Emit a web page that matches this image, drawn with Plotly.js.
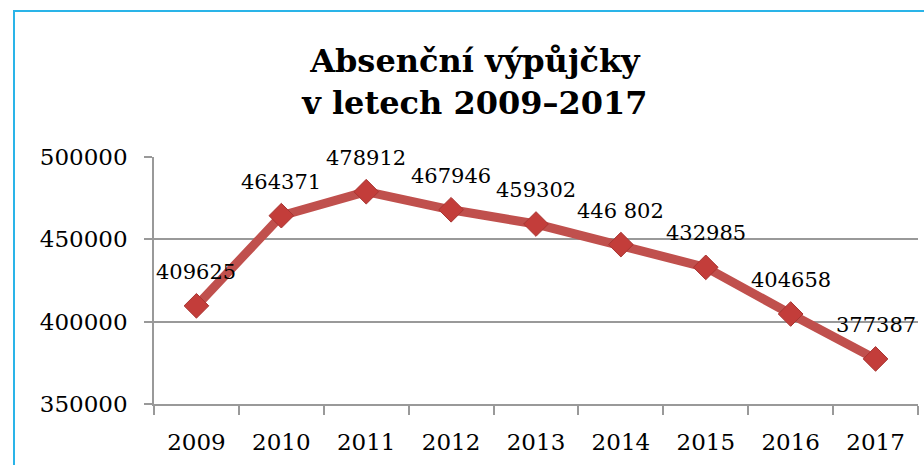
<!DOCTYPE html>
<html>
<head>
<meta charset="utf-8">
<script src="https://cdn.plot.ly/plotly-3.0.1.min.js"></script>
<style>
  body { margin: 0; overflow: hidden; background: #fff; }
  #chart { width: 924px; height: 465px; }
  #frame { position: absolute; left: 13px; top: 10px; width: 1000px; height: 600px;
           border: 2px solid #2ab4e8; pointer-events: none; }
</style>
</head>
<body>
<div id="chart"></div>
<div id="frame"></div>
<script>
var years = ["2009", "2010", "2011", "2012", "2013", "2014", "2015", "2016", "2017"];
var loans = [409625, 464371, 478912, 467946, 459302, 446802, 432985, 404658, 377387];
var loanLabels = ["409625", "464371", "478912", "467946", "459302", "446 802", "432985", "404658", "377387"];

var serif = "Georgia, 'DejaVu Serif', serif";
var red = "#c0504d";

var data = [{
  x: years,
  y: loans,
  type: "scatter",
  mode: "lines+markers",
  line: {color: red, width: 9},
  marker: {symbol: "diamond", size: 19, color: "#c33d3a", line: {color: "#a83532", width: 1}},
  hoverinfo: "x+y"
}];

// data labels above the points (x as category index)
var labels = years.map(function (yr, i) {
  return {
    x: i, y: loans[i], text: loanLabels[i],
    showarrow: false, yshift: 34,
    font: {family: serif, size: 21, color: "#000"}
  };
});

var layout = {
  width: 924,
  height: 465,
  margin: {l: 154, r: 6, t: 157, b: 61},
  paper_bgcolor: "#fff",
  plot_bgcolor: "#fff",
  showlegend: false,
  title: {
    text: "<b>Absenční výpůjčky<br>v letech 2009–2017</b>",
    font: {family: serif, size: 32, color: "#000"},
    x: 0.514, xanchor: "center",
    y: 0.845, yanchor: "top"
  },
  xaxis: {
    type: "category",
    range: [-0.5, 8.5],
    showgrid: false,
    showline: true, linecolor: "#999", linewidth: 1.5,
    ticks: "outside", tickson: "boundaries", ticklen: 9, tickcolor: "#999", tickwidth: 1.5,
    ticklabelstandoff: 17,
    tickfont: {family: serif, size: 23, color: "#000"}
  },
  yaxis: {
    range: [350000, 500000],
    dtick: 50000,
    tickformat: "d",
    showgrid: true, gridcolor: "#999", gridwidth: 1.5,
    zeroline: false,
    showline: true, linecolor: "#999", linewidth: 1.5,
    ticks: "outside", ticklen: 8, tickcolor: "#999", tickwidth: 1.5,
    ticklabelstandoff: 12,
    tickfont: {family: serif, size: 23, color: "#000"}
  },
  annotations: labels
};

Plotly.newPlot("chart", data, layout, {displayModeBar: false});
</script>
</body>
</html>
